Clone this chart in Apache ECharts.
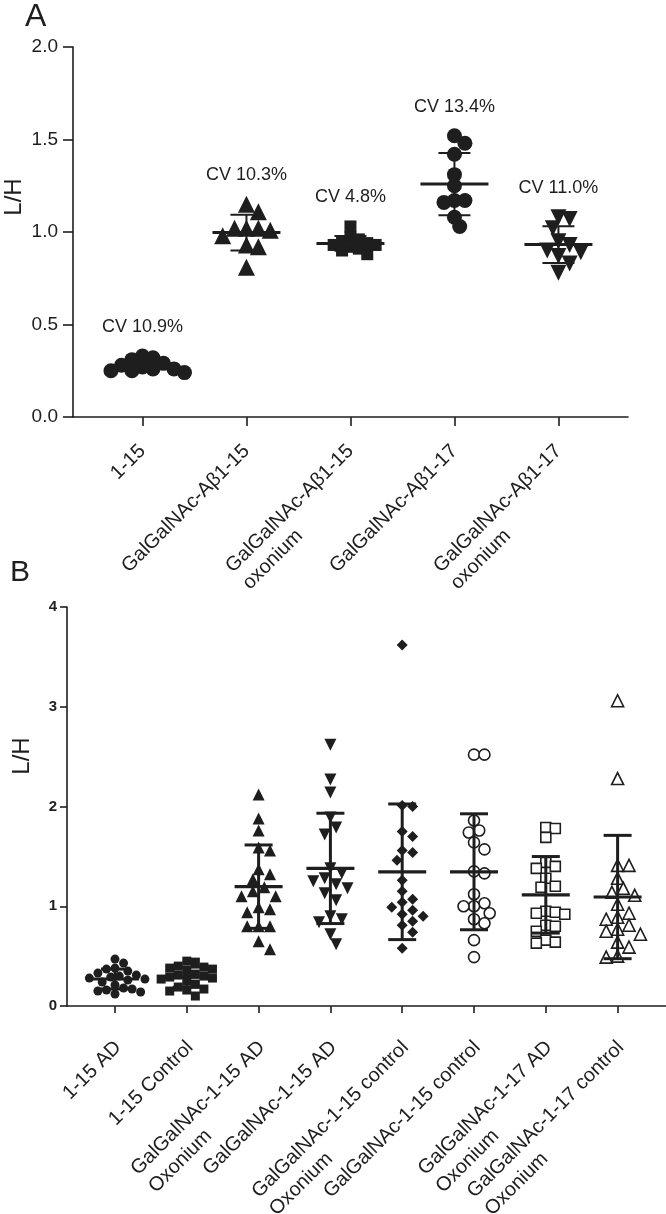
<!DOCTYPE html>
<html><head><meta charset="utf-8">
<script src="https://cdn.jsdelivr.net/npm/echarts@6/dist/echarts.min.js"></script>
<style>html,body{margin:0;padding:0;background:#fff}#c{width:666px;height:1214px}</style>
</head><body><div id="c"></div>
<script>
// ---------- Panel A data ----------
const catsA = ['1-15', 'GalGalNAc-Aβ1-15', 'GalGalNAc-Aβ1-15\noxonium', 'GalGalNAc-Aβ1-17', 'GalGalNAc-Aβ1-17\noxonium'];
const cvLabelsA = ['CV 10.9%', 'CV 10.3%', 'CV 4.8%', 'CV 13.4%', 'CV 11.0%'];
const a1 = [0.33, 0.32, 0.31, 0.29, 0.28, 0.27, 0.26, 0.26, 0.25, 0.25, 0.24];
const a2 = [1.15, 1.11, 1.02, 1.01, 1.02, 1.02, 0.98, 0.93, 0.92, 0.81];
const a3 = [1.03, 0.97, 0.96, 0.95, 0.94, 0.93, 0.93, 0.92, 0.91, 0.90, 0.88];
const a4 = [1.52, 1.48, 1.42, 1.31, 1.25, 1.17, 1.17, 1.16, 1.08, 1.03];
const a5 = [1.08, 1.07, 1.02, 0.95, 0.93, 0.90, 0.89, 0.87, 0.83, 0.78];
const yTicksA = [0, 0.5, 1.0, 1.5, 2.0];

// ---------- Panel B data ----------
const catsB = ['1-15 AD', '1-15 Control', 'GalGalNAc-1-15 AD\nOxonium', 'GalGalNAc-1-15 AD',
  'GalGalNAc-1-15 control\nOxonium', 'GalGalNAc-1-15 control', 'GalGalNAc-1-17 AD\nOxonium', 'GalGalNAc-1-17 control\nOxonium'];
const b1 = [0.47, 0.43, 0.38, 0.37, 0.35, 0.33, 0.31, 0.30, 0.29, 0.28, 0.27, 0.26, 0.24, 0.21, 0.18, 0.17, 0.16, 0.15, 0.14, 0.12];
const b2 = [0.45, 0.44, 0.40, 0.39, 0.38, 0.37, 0.34, 0.32, 0.31, 0.30, 0.29, 0.28, 0.27, 0.25, 0.22, 0.19, 0.17, 0.16, 0.15, 0.10];
const b3 = [2.12, 1.88, 1.76, 1.59, 1.56, 1.37, 1.32, 1.27, 1.19, 1.15, 1.10, 1.10, 0.99, 0.97, 0.94, 0.80, 0.80, 0.80, 0.65, 0.57];
const b4 = [2.62, 2.27, 2.14, 1.89, 1.79, 1.72, 1.38, 1.33, 1.28, 1.25, 1.22, 1.18, 1.13, 1.06, 0.90, 0.87, 0.84, 0.72, 0.62];
const b5 = [3.62, 2.01, 2.00, 1.75, 1.70, 1.56, 1.54, 1.46, 1.26, 1.15, 1.07, 1.04, 0.99, 0.96, 0.92, 0.90, 0.85, 0.81, 0.74, 0.58];
const b6 = [2.52, 2.52, 1.86, 1.76, 1.74, 1.64, 1.57, 1.35, 1.33, 1.12, 1.03, 1.00, 1.00, 0.93, 0.87, 0.83, 0.66, 0.49];
const b7 = [1.79, 1.78, 1.69, 1.44, 1.40, 1.38, 1.28, 1.20, 1.19, 0.95, 0.94, 0.93, 0.92, 0.81, 0.80, 0.75, 0.66, 0.64, 0.63];
const b8 = [3.06, 2.28, 1.41, 1.41, 1.28, 1.18, 1.14, 1.11, 1.02, 0.93, 0.89, 0.87, 0.81, 0.77, 0.75, 0.72, 0.64, 0.59, 0.50, 0.49];
const yTicksB = [0, 1, 2, 3, 4];

const groupsA = [a1, a2, a3, a4, a5];
const groupsB = [b1, b2, b3, b4, b5, b6, b7, b8];

// ---------- styles ----------
const FONT = '"Liberation Sans", Arial, Helvetica, sans-serif';
const INK = '#1e1e1e';
const markA = [
  {symbol: 'circle', size: 15, rot: 0, fill: true},
  {symbol: 'triangle', size: 17, rot: 0, fill: true},
  {symbol: 'rect', size: 12, rot: 0, fill: true},
  {symbol: 'circle', size: 15, rot: 0, fill: true},
  {symbol: 'triangle', size: 16, rot: 180, fill: true}
];
const markB = [
  {symbol: 'circle', size: 9, rot: 0, fill: true},
  {symbol: 'rect', size: 9, rot: 0, fill: true},
  {symbol: 'triangle', size: 12, rot: 0, fill: true},
  {symbol: 'triangle', size: 12, rot: 180, fill: true},
  {symbol: 'diamond', size: 11, rot: 0, fill: true},
  {symbol: 'circle', size: 11, rot: 0, fill: false},
  {symbol: 'rect', size: 10, rot: 0, fill: false},
  {symbol: 'triangle', size: 12, rot: 0, fill: false}
];

function mean(a) { return a.reduce((s, v) => s + v, 0) / a.length; }
function sd(a) { const m = mean(a); return Math.sqrt(a.reduce((s, v) => s + (v - m) * (v - m), 0) / (a.length - 1)); }

function labelFmt(cats) {
  return v => {
    const c = cats[Math.round(v) - 1];
    return c ? c.split('\n').map(s => '{a|' + s + '}').join('\n') : '';
  };
}

const chart = echarts.init(document.getElementById('c'), null, {renderer: 'canvas'});

const axisLineStyle = {color: INK, width: 1.6};
const base = {
  animation: false,
  backgroundColor: '#fff',
  textStyle: {fontFamily: FONT},
  grid: [
    {left: 73, top: 47, width: 555, height: 370, containLabel: false, outerBoundsMode: 'none'},
    {left: 67, top: 607, width: 599, height: 399, containLabel: false, outerBoundsMode: 'none'}
  ],
  xAxis: [
    {gridIndex: 0, type: 'value', min: 0.332, max: 5.669,
      splitLine: {show: false},
      axisLine: {show: true, onZero: false, lineStyle: axisLineStyle},
      axisTick: {show: true, length: 9, lineStyle: axisLineStyle, customValues: [1, 2, 3, 4, 5]},
      axisLabel: {customValues: [1, 2, 3, 4, 5], formatter: labelFmt(catsA), rotate: 45, align: 'right',
        verticalAlign: 'top', margin: 14, padding: [0, 12, 0, 0],
        rich: {a: {fontSize: 20, fontFamily: FONT, color: INK, align: 'left', lineHeight: 24}}}
    },
    {gridIndex: 1, type: 'value', min: 0.3315, max: 8.674,
      splitLine: {show: false},
      axisLine: {show: true, onZero: false, lineStyle: axisLineStyle},
      axisTick: {show: true, length: 7, lineStyle: axisLineStyle, customValues: [1, 2, 3, 4, 5, 6, 7, 8]},
      axisLabel: {customValues: [1, 2, 3, 4, 5, 6, 7, 8], formatter: labelFmt(catsB), rotate: 45, align: 'right',
        verticalAlign: 'top', margin: 24, padding: [0, 8, 0, 0],
        rich: {a: {fontSize: 20, fontFamily: FONT, color: INK, align: 'left', lineHeight: 25}}}
    }
  ],
  yAxis: [
    {gridIndex: 0, type: 'value', min: yTicksA[0], max: yTicksA[yTicksA.length - 1], interval: 0.5,
      splitLine: {show: false},
      axisLine: {show: true, lineStyle: axisLineStyle},
      axisTick: {show: true, length: 10, lineStyle: axisLineStyle},
      axisLabel: {fontSize: 19, color: INK, margin: 15, formatter: v => v.toFixed(1)}
    },
    {gridIndex: 1, type: 'value', min: yTicksB[0], max: yTicksB[yTicksB.length - 1], interval: 1,
      splitLine: {show: false},
      axisLine: {show: true, lineStyle: axisLineStyle},
      axisTick: {show: true, length: 7, lineStyle: axisLineStyle},
      axisLabel: {fontSize: 15, fontWeight: 'bold', color: INK, margin: 10}
    }
  ],
  graphic: [
    {type: 'text', x: 25, y: 17, style: {text: 'A', fontSize: 32, fontFamily: FONT, fill: INK, align: 'left', verticalAlign: 'middle'}},
    {type: 'text', x: 10, y: 573, style: {text: 'B', fontSize: 30, fontFamily: FONT, fill: INK, align: 'left', verticalAlign: 'middle'}},
    {type: 'text', x: 14, y: 197, rotation: Math.PI / 2, style: {text: 'L/H', fontSize: 24, fontFamily: FONT, fill: INK, align: 'center', verticalAlign: 'middle'}},
    {type: 'text', x: 22, y: 756, rotation: Math.PI / 2, style: {text: 'L/H', fontSize: 24, fontFamily: FONT, fill: INK, align: 'center', verticalAlign: 'middle'}}
  ],
  series: []
};
chart.setOption(base);

function pxScale(gridIndex) {
  const p0 = chart.convertToPixel({gridIndex: gridIndex}, [1, 0]);
  const p1 = chart.convertToPixel({gridIndex: gridIndex}, [2, 1]);
  return {x: p1[0] - p0[0], y: p0[1] - p1[1]};
}

// beeswarm: horizontal pixel offsets so markers do not sit on each other
function swarm(values, pxY, dist) {
  const order = values.map((v, i) => i).sort((p, q) => values[q] - values[p]);
  const placed = [];
  const off = new Array(values.length);
  const step = dist / 2;
  order.forEach(i => {
    const y = values[i] * pxY;
    for (let k = 0; k < 200; k++) {
      const n = Math.ceil(k / 2);
      const cand = k === 0 ? 0 : (k % 2 ? n * step : -n * step);
      if (placed.every(p => Math.hypot(p.x - cand, p.y - y) >= dist - 1e-6)) {
        placed.push({x: cand, y: y}); off[i] = cand; break;
      }
    }
  });
  return off;
}

function scatterSeries(groups, marks, gridIndex, distFactor) {
  const sc = pxScale(gridIndex);
  return groups.map((vals, gi) => {
    const m = marks[gi];
    const off = swarm(vals, sc.y, m.size * distFactor);
    return {
      type: 'scatter', xAxisIndex: gridIndex, yAxisIndex: gridIndex, z: 2, silent: true,
      symbol: m.symbol, symbolSize: m.size, symbolRotate: m.rot,
      itemStyle: m.fill ? {color: INK, opacity: 1} : {color: '#fff', borderColor: INK, borderWidth: 1.6, opacity: 1},
      data: vals.map((v, i) => [gi + 1 + off[i] / sc.x, v])
    };
  });
}

function errSeries(groups, gridIndex, halfMean, halfCap, lwMean, lwBar) {
  return {
    type: 'custom', xAxisIndex: gridIndex, yAxisIndex: gridIndex, z: 5, silent: true,
    encode: {x: 0, y: 1},
    data: groups.map((g, i) => [i + 1, mean(g), sd(g)]),
    renderItem: (params, api) => {
      const x = api.value(0), m = api.value(1), s = api.value(2);
      const pm = api.coord([x, m]), pt = api.coord([x, m + s]), pb = api.coord([x, m - s]);
      const st = {stroke: INK, lineWidth: lwBar};
      return {type: 'group', children: [
        {type: 'line', shape: {x1: pt[0], y1: pt[1], x2: pb[0], y2: pb[1]}, style: st},
        {type: 'line', shape: {x1: pt[0] - halfCap, y1: pt[1], x2: pt[0] + halfCap, y2: pt[1]}, style: st},
        {type: 'line', shape: {x1: pb[0] - halfCap, y1: pb[1], x2: pb[0] + halfCap, y2: pb[1]}, style: st},
        {type: 'line', shape: {x1: pm[0] - halfMean, y1: pm[1], x2: pm[0] + halfMean, y2: pm[1]}, style: {stroke: INK, lineWidth: lwMean}}
      ]};
    }
  };
}

function cvSeries() {
  return {
    type: 'custom', xAxisIndex: 0, yAxisIndex: 0, z: 6, silent: true,
    encode: {x: 0, y: 1},
    data: groupsA.map((g, i) => [i + 1, Math.max.apply(null, g), i]),
    renderItem: (params, api) => {
      const p = api.coord([api.value(0), api.value(1)]);
      return {type: 'text', x: p[0], y: p[1] - 29,
        style: {text: cvLabelsA[api.value(2)], fill: INK, fontSize: 18, fontFamily: FONT, align: 'center', verticalAlign: 'middle'}};
    }
  };
}

chart.setOption({
  series: [].concat(
    scatterSeries(groupsA, markA, 0, 0.7),
    [errSeries(groupsA, 0, 34, 16, 3, 2)],
    [cvSeries()],
    scatterSeries(groupsB, markB, 1, 0.95),
    [errSeries(groupsB, 1, 24, 14, 3.2, 3)]
  )
});
</script>
</body></html>
